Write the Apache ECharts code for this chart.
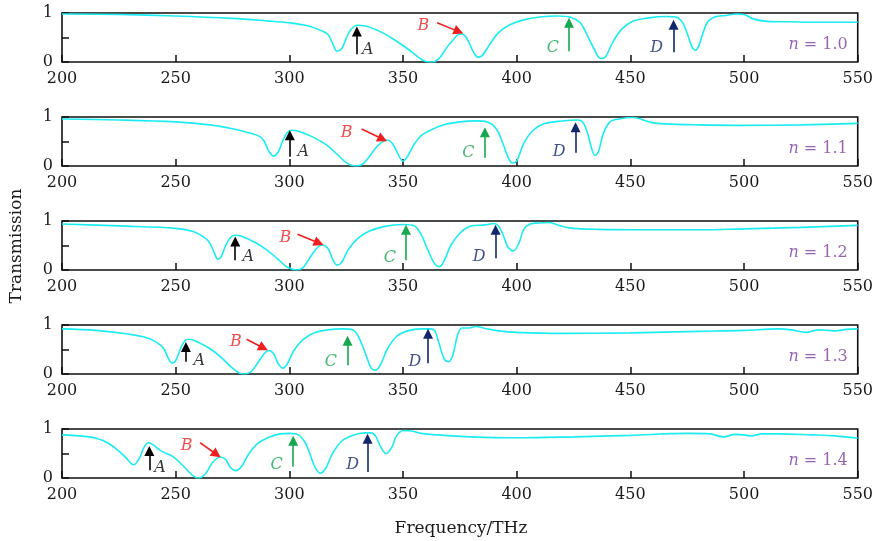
<!DOCTYPE html>
<html>
<head>
<meta charset="utf-8">
<script src="https://cdn.jsdelivr.net/npm/echarts@6/dist/echarts.min.js"></script>
<style>html,body{margin:0;padding:0;background:#fff}#c{width:876px;height:541px}</style>
</head>
<body>
<div id="c"></div>
<script>
// ---- data ----
const xTicks = [200, 250, 300, 350, 400, 450, 500, 550];
const yTicks = [0, 1];
const nValues = ['1.0', '1.1', '1.2', '1.3', '1.4'];

const s10 = [[200,0.98],[225,0.97],[250,0.94],[275,0.89],[290,0.84],[300,0.8],[308,0.74],[314,0.64],[317,0.56],[319,0.38],[321,0.22],[323,0.27],[325,0.48],[327,0.66],[330,0.75],[333,0.74],[340,0.62],[346,0.46],[352,0.27],[357,0.09],[360,0.01],[363,0.0],[366,0.08],[369,0.28],[372,0.45],[375,0.57],[377,0.55],[379,0.4],[381,0.2],[383,0.1],[385,0.14],[388,0.35],[392,0.6],[397,0.76],[403,0.86],[410,0.92],[418,0.94],[424,0.91],[428,0.8],[431,0.55],[434,0.27],[437,0.07],[439,0.1],[442,0.38],[446,0.66],[451,0.83],[458,0.9],[466,0.93],[470,0.92],[473,0.8],[475,0.58],[477,0.32],[478.5,0.24],[480,0.32],[482,0.6],[484,0.82],[487,0.92],[492,0.95],[497,0.98],[500,0.97],[504,0.88],[510,0.83],[520,0.82],[535,0.81],[550,0.81]];
const s11 = [[200,0.96],[225,0.94],[250,0.9],[265,0.84],[275,0.76],[282,0.68],[287,0.6],[289,0.5],[291,0.3],[293,0.2],[295,0.28],[297,0.5],[299,0.68],[301,0.73],[304,0.71],[310,0.6],[316,0.44],[321,0.24],[325,0.07],[329,0.0],[332,0.03],[335,0.18],[339,0.42],[343,0.53],[345,0.48],[347,0.32],[349,0.14],[350,0.1],[352,0.2],[355,0.45],[358,0.62],[362,0.73],[368,0.84],[375,0.9],[382,0.92],[387,0.9],[391,0.76],[394,0.45],[396,0.2],[398,0.06],[400,0.1],[403,0.45],[407,0.72],[412,0.86],[420,0.92],[427,0.94],[429,0.9],[431,0.7],[433,0.35],[434.5,0.22],[436,0.3],[438,0.65],[441,0.9],[445,0.96],[451,0.99],[455,0.95],[459,0.89],[465,0.86],[480,0.84],[500,0.83],[525,0.84],[550,0.87]];
const s12 = [[200,0.94],[225,0.9],[250,0.85],[258,0.78],[263,0.65],[265,0.55],[267,0.35],[268.5,0.22],[270,0.27],[272,0.5],[274,0.66],[276,0.71],[279,0.69],[285,0.56],[290,0.41],[295,0.22],[299,0.06],[303,0.0],[306,0.05],[309,0.25],[312,0.44],[314.5,0.51],[317,0.44],[319,0.22],[321,0.1],[323,0.16],[326,0.42],[330,0.64],[335,0.79],[342,0.89],[350,0.93],[355,0.9],[358,0.72],[361,0.4],[364,0.12],[366,0.07],[368,0.18],[371,0.5],[375,0.75],[380,0.9],[386,0.92],[390,0.95],[392,0.9],[394,0.72],[396,0.48],[398.5,0.39],[401,0.55],[403,0.82],[406,0.94],[410,0.96],[414,0.97],[418,0.92],[423,0.86],[435,0.83],[460,0.82],[480,0.82],[500,0.84],[525,0.87],[550,0.91]];
const s13 = [[200,0.92],[215,0.89],[230,0.81],[238,0.73],[243,0.6],[245,0.5],[247,0.3],[248.5,0.22],[250,0.27],[252,0.5],[254,0.68],[256,0.71],[259,0.67],[265,0.52],[270,0.34],[275,0.12],[279.5,0.0],[283,0.04],[286,0.22],[289,0.42],[291,0.48],[293,0.42],[295,0.22],[297,0.12],[299,0.2],[302,0.48],[306,0.7],[311,0.84],[317,0.9],[323,0.92],[328,0.9],[331,0.7],[334,0.35],[336,0.12],[338,0.08],[340,0.18],[343,0.5],[347,0.76],[352,0.88],[358,0.92],[362,0.92],[364,0.88],[366,0.6],[368,0.32],[370,0.25],[372,0.4],[374,0.8],[376,0.94],[379,0.94],[382,0.97],[386,0.93],[392,0.88],[400,0.85],[420,0.83],[450,0.84],[480,0.87],[500,0.89],[515,0.92],[521,0.9],[527,0.85],[533,0.9],[537,0.89],[540,0.88],[545,0.91],[550,0.92]];
const s14 = [[200,0.88],[210,0.85],[215,0.81],[220,0.72],[225,0.55],[228,0.42],[231.5,0.27],[234,0.4],[236,0.62],[238,0.72],[240,0.68],[243,0.57],[246,0.5],[249,0.43],[253,0.26],[257,0.07],[260,0.0],[263,0.08],[266,0.3],[269.5,0.43],[272,0.38],[274,0.22],[276.5,0.15],[279,0.24],[282,0.48],[286,0.7],[291,0.83],[296,0.9],[300,0.91],[304,0.88],[307,0.72],[309,0.5],[311,0.25],[313.5,0.1],[316,0.2],[319,0.5],[323,0.75],[328,0.87],[333,0.92],[336,0.92],[338,0.85],[340,0.65],[342.5,0.5],[345,0.62],[347,0.85],[350,0.97],[354,0.96],[358,0.91],[365,0.88],[380,0.84],[400,0.82],[425,0.84],[450,0.87],[475,0.91],[485,0.9],[491,0.84],[496,0.89],[500,0.88],[503,0.86],[508,0.9],[515,0.9],[530,0.88],[540,0.86],[550,0.81]];
const seriesData = [s10, s11, s12, s13, s14];

// vertical arrows: [panel, letter, freq, from, to]
const vArrows = [
  [0,'A',329.7,0.16,0.62],[0,'C',423,0.22,0.8],[0,'D',469,0.2,0.76],
  [1,'A',300.2,0.19,0.63],[1,'C',386,0.17,0.69],[1,'D',425.9,0.27,0.79],
  [2,'A',276.2,0.2,0.58],[2,'C',351.3,0.2,0.82],[2,'D',390.7,0.24,0.82],
  [3,'A',254.5,0.25,0.55],[3,'C',325.6,0.18,0.68],[3,'D',361,0.22,0.82],
  [4,'A',238.4,0.16,0.55],[4,'C',301.7,0.23,0.76],[4,'D',334.4,0.12,0.8]
];
// B arrows: [panel, f0, v0, f1, v1]
const bArrows = [
  [0,365,0.8,374.5,0.62],
  [1,331.8,0.755,341,0.55],
  [2,303.6,0.73,313,0.55],
  [3,281.2,0.71,288.6,0.53],
  [4,260.7,0.72,268,0.48]
];
// letter labels: [panel, letter, freq, value]
const letterLabels = [
  [0,'A',334.5,0.245],[0,'B',359,0.73],[0,'C',415.9,0.29],[0,'D',461.6,0.29],
  [1,'A',306.1,0.28],[1,'B',325.2,0.67],[1,'C',378.7,0.26],[1,'D',418.7,0.29],
  [2,'A',281.9,0.26],[2,'B',298.3,0.65],[2,'C',344.2,0.24],[2,'D',383.5,0.27],
  [3,'A',260.4,0.27],[3,'B',276.5,0.65],[3,'C',318.3,0.25],[3,'D',355.2,0.25],
  [4,'A',243.1,0.2],[4,'B',254.8,0.65],[4,'C',294.4,0.26],[4,'D',327.8,0.27]
];
const nLabelPos = [545.6, 0.35];

// ---- styles ----
const letterColor = {A:'#000000', B:'#ee1f1f', C:'#17a84f', D:'#11266b'};
const curveColor = '#1becf2';
const nColor = '#7b3f9d';
const tickFont = 'DejaVu Serif';
const tops = [13, 117, 221, 325, 429];

const grids = [], xAxes = [], yAxes = [], series = [];
tops.forEach((t, i) => {
  grids.push({left: 62, right: 18, top: t, height: 49, show: true, borderColor: '#111', borderWidth: 1.6, backgroundColor: 'transparent'});
  xAxes.push({
    type: 'value', gridIndex: i, min: xTicks[0], max: xTicks[xTicks.length-1], interval: 50,
    axisLine: {show: false}, splitLine: {show: false},
    axisTick: {show: true, inside: true, length: 7, lineStyle: {color: '#111', width: 1.5}},
    axisLabel: {margin: 9, fontFamily: tickFont, fontSize: 16, color: '#1a1a1a'}
  });
  yAxes.push({
    type: 'value', gridIndex: i, min: yTicks[0], max: yTicks[1], interval: 0.5,
    axisLine: {show: false}, splitLine: {show: false},
    axisTick: {show: true, inside: true, length: 7, lineStyle: {color: '#111', width: 1.5}},
    axisLabel: {margin: 9, fontFamily: tickFont, fontSize: 16, color: '#1a1a1a',
      formatter: v => (yTicks.indexOf(v) >= 0 ? String(v) : '')}
  });
  const mlData = [];
  vArrows.filter(a => a[0] === i).forEach(a => {
    mlData.push([{coord: [a[2], a[3]], symbol: 'none', lineStyle: {color: letterColor[a[1]]}, itemStyle: {color: letterColor[a[1]]}},
                 {coord: [a[2], a[4]], symbol: 'triangle', lineStyle: {color: letterColor[a[1]]}, itemStyle: {color: letterColor[a[1]]}}]);
  });
  bArrows.filter(a => a[0] === i).forEach(a => {
    mlData.push([{coord: [a[1], a[2]], symbol: 'none', lineStyle: {color: letterColor.B}, itemStyle: {color: letterColor.B}},
                 {coord: [a[3], a[4]], symbol: 'triangle', lineStyle: {color: letterColor.B}, itemStyle: {color: letterColor.B}}]);
  });
  series.push({
    type: 'line', xAxisIndex: i, yAxisIndex: i, data: seriesData[i], smooth: 0.35,
    showSymbol: false, symbol: 'none', lineStyle: {color: curveColor, width: 1.6}, silent: true,
    markLine: {silent: true, symbolSize: 10, label: {show: false}, lineStyle: {type: 'solid', width: 1.6}, data: mlData, animation: false}
  });
  const lblData = letterLabels.filter(l => l[0] === i).map(l => ({
    value: [l[2], l[3]],
    label: {show: true, position: 'inside', formatter: l[1], color: letterColor[l[1]],
      fontFamily: 'DejaVu Serif', fontStyle: 'italic', fontSize: 16}
  }));
  lblData.push({
    value: nLabelPos,
    label: {show: true, position: 'inside', align: 'right', formatter: '{i|n} = ' + nValues[i], color: nColor,
      fontFamily: 'DejaVu Serif', fontSize: 16,
      rich: {i: {fontStyle: 'italic', fontFamily: 'DejaVu Serif', fontSize: 16, color: nColor}}}
  });
  series.push({type: 'scatter', xAxisIndex: i, yAxisIndex: i, symbolSize: 0, data: lblData, silent: true});
});

const chart = echarts.init(document.getElementById('c'), null, {renderer: 'canvas'});
chart.setOption({
  animation: false,
  grid: grids, xAxis: xAxes, yAxis: yAxes, series: series,
  graphic: [
    {type: 'text', x: 17, y: 246, rotation: Math.PI/2,
      style: {text: 'Transmission', fontFamily: 'DejaVu Serif', fontSize: 17, fill: '#1a1a1a', align: 'center', verticalAlign: 'middle'}},
    {type: 'text', x: 461, y: 529,
      style: {text: 'Frequency/THz', fontFamily: 'DejaVu Serif', fontSize: 17, fill: '#1a1a1a', align: 'center', verticalAlign: 'middle'}}
  ]
});
</script>
</body>
</html>
